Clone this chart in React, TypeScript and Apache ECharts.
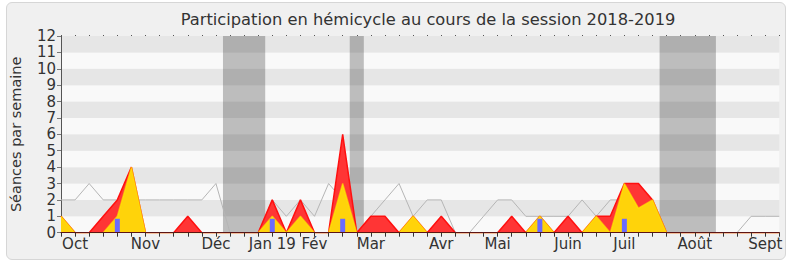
import React, { useEffect, useRef } from "react";
import * as echarts from "echarts";

// Week index 0..51 (session 2018-2019)
const weeks: number[] = Array.from({ length: 52 }, (_, i) => i);

const monthLabels = ["Oct", "Nov", "Déc", "Jan 19", "Fév", "Mar", "Avr", "Mai", "Juin", "Juil", "Août", "Sept"];
const monthWeek = [1, 6, 11, 15, 18, 22, 27, 31, 36, 40, 45, 50];

// Grey line: median
const medianValues = [
  2, 2, 3, 2, 2, 2, 2, 2, 2, 2, 2, 3, 0, 0, 0, 2, 1, 2, 1, 3, 2, 0, 1, 2, 3, 1,
  2, 2, 0, 0, 1, 2, 2, 1, 1, 1, 1, 2, 1, 2, 2, 2, 1, 0, 0, 0, 0, 0, 0, 1, 1, 1,
];
// Red area: présences
const presenceValues = [
  1, 0, 0, 1, 2, 4, 0, 0, 0, 1, 0, 0, 0, 0, 0, 2, 0, 2, 0, 0, 6, 0, 1, 1, 0, 1,
  0, 1, 0, 0, 0, 0, 1, 0, 1, 0, 1, 0, 1, 1, 3, 3, 2, 0, 0, 0, 0, 0, 0, 0, 0, 0,
];
// Yellow area: participations
const participationValues = [
  1, 0, 0, 0, 1, 4, 0, 0, 0, 0, 0, 0, 0, 0, 0, 1, 0, 1, 0, 0, 3, 0, 0, 0, 0, 1,
  0, 0, 0, 0, 0, 0, 0, 0, 1, 0, 0, 0, 1, 0, 3, 1.5, 2, 0, 0, 0, 0, 0, 0, 0, 0, 0,
];
// Blue bars
const questionValues = [
  0, 0, 0, 0, 0.85, 0, 0, 0, 0, 0, 0, 0, 0, 0, 0, 0.85, 0, 0, 0, 0, 0.85, 0, 0, 0, 0, 0,
  0, 0, 0, 0, 0, 0, 0, 0, 0.85, 0, 0, 0, 0, 0, 0.85, 0, 0, 0, 0, 0, 0, 0, 0, 0, 0, 0,
];
// Vacation periods (week positions)
const vacationStart = [11.5, 20.5, 42.5];
const vacationEnd = [14.5, 21.5, 46.5];

const FONT = "DejaVu Sans";

export default function App() {
  const ref = useRef<HTMLDivElement>(null);
  useEffect(() => {
    if (!ref.current) return;
    const chart = echarts.init(ref.current, undefined, { renderer: "svg" });
    const labelMap: Record<number, string> = {};
    monthWeek.forEach((w, k) => (labelMap[w] = monthLabels[k]));
    const pairs = (arr: number[]) => weeks.map((w) => [w, arr[w]]);
    const xCommon = {
      type: "value" as const,
      min: 0,
      max: 51,
      interval: 1,
      splitLine: { show: false },
    };
    chart.setOption({
      animation: false,
      graphic: [
        {
          type: "text",
          x: 428,
          y: 11,
          style: {
            text: "Participation en hémicycle au cours de la session 2018-2019",
            font: `16.3px '${FONT}'`,
            fill: "#333",
            textAlign: "center",
          },
        },
      ],
      grid: { left: 61, right: 10.7, top: 36, bottom: 34.3 },
      xAxis: [
        {
          ...xCommon,
          position: "bottom",
          z: 10,
          axisLine: { show: true, lineStyle: { color: "#5c1414", width: 1 } },
          axisTick: { show: true, length: 4, lineStyle: { color: "#333" } },
          axisLabel: {
            show: true,
            margin: 4,
            color: "#333",
            fontFamily: FONT,
            fontSize: 15,
            formatter: (v: number) => labelMap[v] ?? "",
          },
        },
        {
          ...xCommon,
          position: "top",
          axisLine: { show: false },
          axisTick: { show: true, length: 1, lineStyle: { color: "#555" } },
          axisLabel: { show: false },
        },
      ],
      yAxis: {
        type: "value",
        min: 0,
        max: 12,
        interval: 1,
        name: "Séances par semaine",
        nameLocation: "middle",
        nameGap: 38,
        nameTextStyle: { fontFamily: FONT, fontSize: 14.5, color: "#333" },
        axisLine: { show: true, lineStyle: { color: "#555" } },
        axisTick: { show: true, length: 4, lineStyle: { color: "#777" } },
        axisLabel: { margin: 5, color: "#333", fontFamily: FONT, fontSize: 15, lineHeight: 15 },
        splitLine: { show: false },
        splitArea: { show: true, areaStyle: { color: ["#f9f9f9", "#e6e6e6"] } },
      },
      series: [
        {
          type: "line",
          data: pairs(medianValues),
          symbol: "none",
          z: 2,
          lineStyle: { color: "#b5b5b5", width: 1 },
          markArea: {
            silent: true,
            itemStyle: { color: "rgba(0,0,0,0.24)" },
            data: vacationStart.map((s, k) => [{ xAxis: s }, { xAxis: vacationEnd[k] }]),
          },
        },
        {
          type: "line",
          data: pairs(presenceValues),
          symbol: "none",
          z: 3,
          lineStyle: { color: "#ff1010", width: 1.5 },
          areaStyle: { color: "#ff3535", opacity: 1 },
        },
        {
          type: "line",
          data: pairs(participationValues),
          symbol: "none",
          z: 4,
          lineStyle: { color: "rgba(255,235,0,0.6)", width: 1.5 },
          areaStyle: { color: "#ffd30a", opacity: 1 },
        },
        {
          type: "bar",
          data: weeks.map((w) => [w, questionValues[w] > 0 ? questionValues[w] : null]),
          barWidth: 5,
          z: 5,
          itemStyle: { color: "#6b6bff" },
        },
      ],
    });
    return () => chart.dispose();
  }, []);
  return (
    <div style={{ position: "fixed", left: 0, top: 0, width: 790, height: 267, background: "#fff" }}>
      <div
        style={{
          position: "absolute",
          left: 6,
          top: 2,
          width: 778,
          height: 256,
          border: "1px solid #d6d6d6",
          borderRadius: 6,
          background: "#f0f0f0",
        }}
      />
      <div ref={ref} style={{ position: "absolute", left: 0, top: 0, width: 790, height: 267 }} />
    </div>
  );
}
